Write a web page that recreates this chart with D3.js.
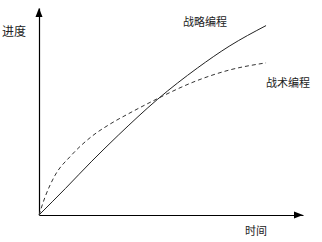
<!DOCTYPE html>
<html>
<head>
<meta charset="utf-8">
<script src="https://cdn.jsdelivr.net/npm/d3@7"></script>
<style>
  body { margin: 0; background: #fff; }
  text { font-family: "Noto Sans CJK SC", sans-serif; fill: #222; }
</style>
</head>
<body>
<div id="chart"></div>
<script>
// time (0-100) and progress (0-100)
var strategicT = [0, 10, 20, 30, 45, 60, 72, 86];
var strategicV = [0, 12.8, 26, 38.5, 56, 71, 81.5, 91.5];
var tacticalT = [0, 2.3, 6, 12, 20, 27, 34, 43, 60, 72, 86];
var tacticalV = [0, 8.7, 19, 28.5, 38, 44, 49, 55, 65, 70, 73.5];
var seriesNames = ["战略编程", "战术编程"];
var axisNames = ["时间", "进度"];

var width = 322, height = 242;

var svg = d3.select("#chart")
            .append("svg")
            .attr("width", width)
            .attr("height", height)
            .style("background-color", "white");

var x = d3.scaleLinear().domain([0, 100]).range([39, 303]);
var y = d3.scaleLinear().domain([0, 100]).range([215, 8]);

// axes, no ticks
svg.append("g")
   .attr("transform", "translate(0," + y(0) + ")")
   .call(d3.axisBottom(x).tickValues([]).tickSizeOuter(0))
   .select(".domain").attr("stroke", "#000").attr("stroke-width", 1.2);

svg.append("g")
   .attr("transform", "translate(" + x(0) + ",0)")
   .call(d3.axisLeft(y).tickValues([]).tickSizeOuter(0))
   .select(".domain").attr("stroke", "#000").attr("stroke-width", 1.2);

// arrow heads
var xe = x(100), ye = y(0);
svg.append("path")
   .attr("d", "M" + xe + "," + ye + "L" + (xe - 9) + "," + (ye - 3.5) + "L" + (xe - 9) + "," + (ye + 3.5) + "Z")
   .attr("fill", "#000");
var xo = x(0), yt = y(100);
svg.append("path")
   .attr("d", "M" + xo + "," + yt + "L" + (xo - 3.5) + "," + (yt + 9) + "L" + (xo + 3.5) + "," + (yt + 9) + "Z")
   .attr("fill", "#000");

var line = d3.line()
             .x(function(d) { return x(d[0]); })
             .y(function(d) { return y(d[1]); })
             .curve(d3.curveMonotoneX);

//Strategic (solid)
svg.append("path")
   .datum(d3.zip(strategicT, strategicV))
   .attr("d", line)
   .attr("fill", "none")
   .attr("stroke", "#222")
   .attr("stroke-width", 1);

//Tactical (dashed)
svg.append("path")
   .datum(d3.zip(tacticalT, tacticalV))
   .attr("d", line)
   .attr("fill", "none")
   .attr("stroke", "#333")
   .attr("stroke-width", 1)
   .attr("stroke-dasharray", "4,3");

// labels
svg.append("text").attr("x", 183).attr("y", 26).attr("font-size", 11).text(seriesNames[0]);
svg.append("text").attr("x", 266).attr("y", 87).attr("font-size", 11).text(seriesNames[1]);
svg.append("text").attr("x", 245).attr("y", 235).attr("font-size", 11).text(axisNames[0]);
svg.append("text").attr("x", 2).attr("y", 36).attr("font-size", 12).text(axisNames[1]);
</script>
</body>
</html>
